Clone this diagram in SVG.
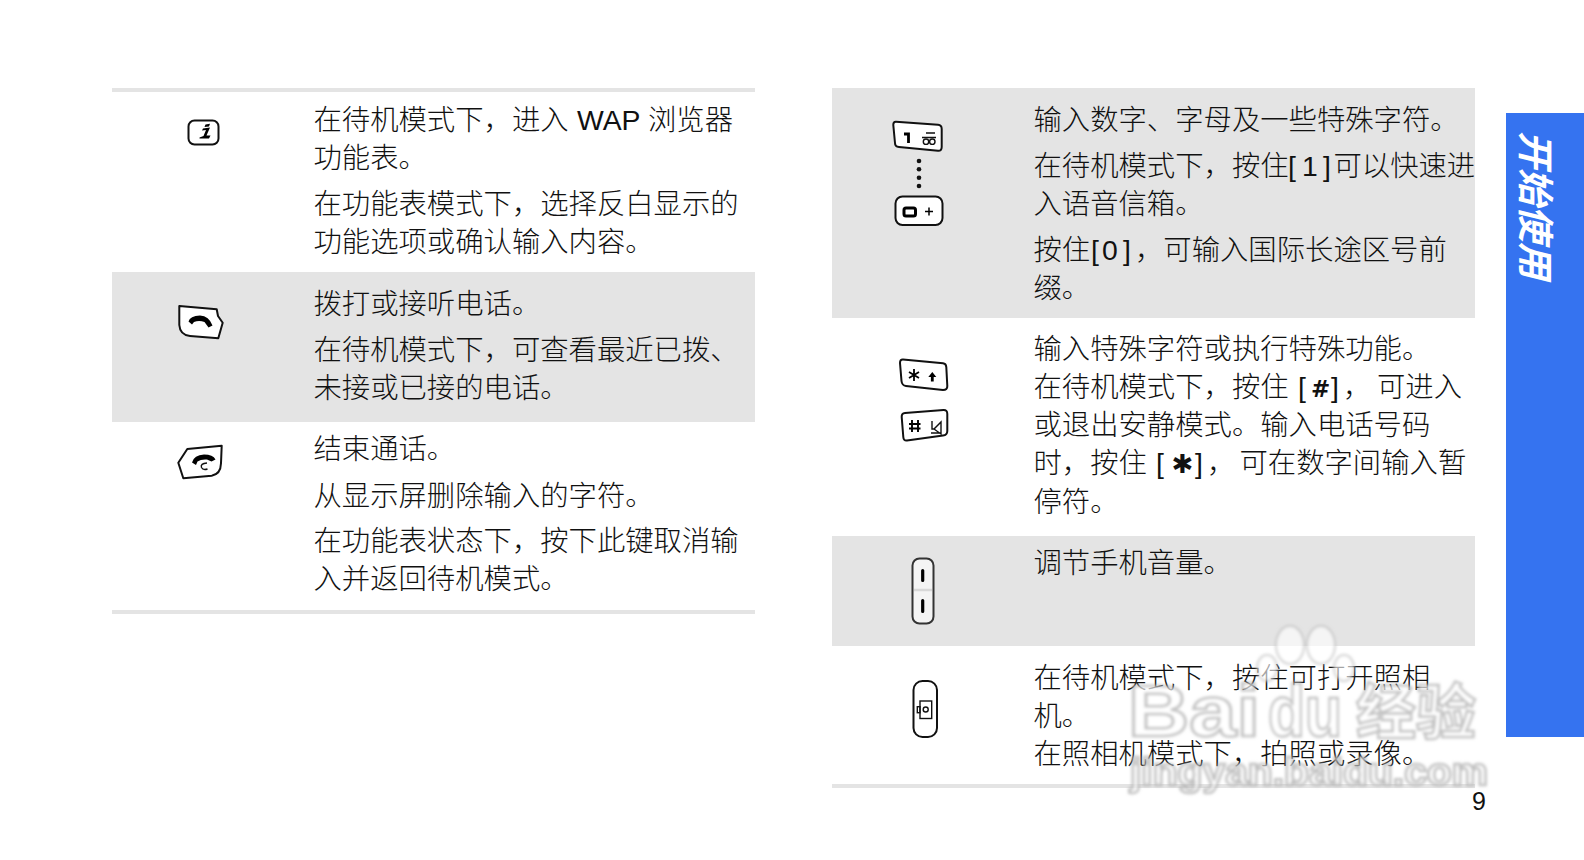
<svg xmlns="http://www.w3.org/2000/svg" width="1584" height="860" viewBox="0 0 1584 860">
<style>
.g{fill:#e4e4e4}
text{font-family:"Noto Sans CJK SC","Liberation Sans",sans-serif}
.t{font-size:28.35px;fill:#111;font-weight:300}
.l{font-family:"Liberation Sans",sans-serif;font-weight:400}
.k{fill:#fff;stroke:#111;stroke-width:2;stroke-linejoin:round}
.n{fill:none;stroke:#111;stroke-width:1.4}
.wm{fill:#fff;fill-opacity:.68;stroke:#a0a0a0;stroke-width:2.500;stroke-opacity:.65;font-family:"Liberation Sans",sans-serif;font-weight:700}
.p{fill:#fff;fill-opacity:.62;stroke:#b0b0b0;stroke-opacity:.6;stroke-width:2}
</style>
<defs><filter id="b" x="-10%" y="-10%" width="120%" height="120%"><feGaussianBlur stdDeviation="1.700"/></filter></defs>
<rect width="1584" height="860" fill="#fff"/>
<g id="left-table">
<rect class="g" x="112" y="88" width="643" height="4"/>
<rect class="g" x="112" y="272" width="643" height="150"/>
<rect class="g" x="112" y="610" width="643" height="4"/>
</g>
<g id="right-table">
<rect class="g" x="832" y="88" width="643" height="230"/>
<rect class="g" x="832" y="536" width="643" height="110"/>
<rect class="g" x="832" y="784" width="643" height="4"/>
</g>
<g id="key-info">
<rect class="k" x="188.500" y="120.500" width="30" height="24" rx="6" stroke-width="1.600"/>
<path d="M199.500 137.500l4-1.500 2.500-6-4 .5 1-2 7-1-3.500 8h4l-1.500 3h-9.500ZM205.500 124.500l4.500-.7-1 2.700-4.500.6Z" fill="#000"/>
<text class="t" y="129.500" x="313.500">在待机模式下，进入<tspan class="l" x="577">WAP</tspan><tspan x="648">浏览器</tspan></text>
<text class="t" y="167.500" x="313.500">功能表。</text>
<text class="t" y="214" x="313.500">在功能表模式下，选择反白显示的</text>
<text class="t" y="252" x="313.500">功能选项或确认输入内容。</text>
</g>
<g id="key-call">
<path class="k" d="M179.300 306L216.700 309.300 218 316 222.700 322.700 218.300 338.300 190 336Q180 335 179.300 325Z"/>
<path d="M188.500 321.500Q190 316 200 315.500Q209 316 212.500 325.500L208.500 327.500 204.500 322Q199 320 194 322L192 324.500Z" fill="#000"/>
<text class="t" y="314" x="313.500">拨打或接听电话。</text>
<text class="t" y="360" x="313.500">在待机模式下，可查看最近已拨、</text>
<text class="t" y="398" x="313.500">未接或已接的电话。</text>
</g>
<g id="key-end">
<path class="k" d="M221.700 445.700L187.300 449 178.300 462.700 183.300 478.300 211.700 475.700Q220.700 474.300 221 463.300Z"/>
<path d="M192 462.500Q194 455 204 454.500Q213 454.500 215.500 459.500L211.500 461.500 207 459.500Q201 459 197.500 461.500L196 465Z" fill="#000"/>
<path class="n" d="M207 463Q200 463.500 201.500 467.500Q203 470.500 207.500 469"/>
<text class="t" y="459" x="313.500">结束通话。</text>
<text class="t" y="506" x="313.500">从显示屏删除输入的字符。</text>
<text class="t" y="551" x="313.500">在功能表状态下，按下此键取消输</text>
<text class="t" y="589" x="313.500">入并返回待机模式。</text>
</g>
<g id="key-digits">
<path class="k" d="M896 121.800L938 124.800Q941.700 125 941.700 129L941.700 147Q941.700 151 938 150.700L899 147Q895 146.700 895 143L893.300 125Q893.300 121.600 896 121.800Z"/>
<path d="M904 134h4.500v9" fill="none" stroke="#000" stroke-width="2.800"/>
<path class="n" d="M926 133h9M922 137.500h14" stroke-width="1"/>
<circle class="n" cx="926" cy="141.700" r="2.700"/><circle class="n" cx="932.300" cy="141.700" r="2.700"/>
<g fill="#111"><circle cx="919" cy="161" r="2.300"/><circle cx="919" cy="169.300" r="2.300"/><circle cx="919" cy="177.700" r="2.300"/><circle cx="919" cy="186" r="2.300"/></g>
<rect class="k" x="895.500" y="196.500" width="47" height="28.500" rx="7"/>
<rect x="904" y="208" width="11.500" height="8" rx="2" fill="none" stroke="#000" stroke-width="3"/>
<path d="M925 211.500h8M929 207.500v8" stroke="#000" stroke-width="1.500"/>
<text class="t" y="130" x="1033.500">输入数字、字母及一些特殊字符。</text>
<text class="t" y="176" x="1033.500">在待机模式下，按住<tspan class="l" x="1288">[</tspan><tspan class="l" x="1302">1</tspan><tspan class="l" x="1323">]</tspan><tspan x="1333.500">可以快速进</tspan></text>
<text class="t" y="214" x="1033.500">入语音信箱。</text>
<text class="t" y="260" x="1033.500">按住<tspan class="l" x="1091">[</tspan><tspan class="l" x="1102">0</tspan><tspan class="l" x="1123">]</tspan><tspan x="1135">，可输入国际长途区号前</tspan></text>
<text class="t" y="297.500" x="1033.500">缀。</text>
</g>
<g id="key-symbols">
<path class="k" d="M903 359.500L943 363.300Q946 363.600 946.300 367L947.300 386Q947.500 390 943 390L906 386Q902 385.500 901.500 381L900 363Q900 359.300 903 359.500Z"/>
<path d="M914 369v12M909 372l10 6M919 372l-10 6" stroke="#000" stroke-width="1.800"/>
<path d="M932.300 372l-4 5h2.600v4.500h2.800v-4.500h2.600Z" fill="#000"/>
<path class="k" d="M905 413L943.500 410Q947.300 409.800 947.300 414L947.300 431Q947.300 435 943 435.500L907 440.500Q903.500 441 903.300 437L901.700 417Q901.500 413.300 905 413Z"/>
<path d="M912 420v12M918 420v12M909 424h11.500M909 428.500h11.500" stroke="#000" stroke-width="1.900"/>
<path class="n" d="M932 421v8h2l7-7v12l-7-5M931 433h10" stroke-width="1.100"/>
<text class="t" y="359" x="1033.500">输入特殊字符或执行特殊功能。</text>
<text class="t" y="397" x="1033.500">在待机模式下，按住<tspan class="l" x="1298">[</tspan><tspan x="1311" font-weight="700" font-size="23" style="font-family:'DejaVu Sans',sans-serif">#</tspan><tspan class="l" x="1331">]</tspan><tspan x="1343">，</tspan><tspan x="1377">可进入</tspan></text>
<text class="t" y="435" x="1033.500">或退出安静模式。输入电话号码</text>
<text class="t" y="473" x="1033.500">时，按住<tspan class="l" x="1156">[</tspan><tspan x="1171.500" font-size="26" font-weight="700" style="font-family:'DejaVu Sans',sans-serif">✱</tspan><tspan class="l" x="1195">]</tspan><tspan x="1207">，</tspan><tspan x="1239.500">可在数字间输入暂</tspan></text>
<text class="t" y="512" x="1033.500">停符。</text>
</g>
<g id="key-volume">
<rect x="912.500" y="558.500" width="21" height="65" rx="7" fill="#f4f4f4" stroke="#333" stroke-width="2"/>
<path d="M914 590h18" stroke="#d8d8d8" stroke-width="2.500"/>
<path d="M922.700 570.500v10M922.700 600.500v11" stroke="#000" stroke-width="3.200" stroke-linecap="round"/>
<text class="t" y="573" x="1033.500">调节手机音量。</text>
</g>
<g id="key-camera">
<rect class="k" x="913.500" y="681" width="23.500" height="56" rx="9"/>
<rect class="n" x="920" y="701" width="11.700" height="17.500"/><rect class="n" x="917.300" y="706.700" width="2.700" height="6"/><circle class="n" cx="925.700" cy="709.500" r="2.500"/>
<text class="t" y="688" x="1033.500">在待机模式下，按住可打开照相</text>
<text class="t" y="726" x="1033.500">机。</text>
<text class="t" y="763.500" x="1033.500">在照相机模式下，拍照或录像。</text>
</g>
<g id="chapter-tab">
<rect x="1506" y="113" width="78" height="624" fill="#3573f0"/>
<text transform="translate(1522 131) rotate(90) skewX(-14)" font-size="37" font-weight="700" fill="#fff" x="0" y="0">开始使用</text>
</g>
<g id="watermark" filter="url(#b)">
<ellipse class="p" cx="1290" cy="645" rx="14" ry="19"/>
<ellipse class="p" cx="1321" cy="645" rx="14" ry="19"/>
<ellipse class="p" cx="1267" cy="668" rx="10" ry="13"/>
<ellipse class="p" cx="1344" cy="668" rx="10" ry="13"/>
<text class="wm" x="1128" y="736" font-size="72" textLength="132" lengthAdjust="spacingAndGlyphs">Bai</text>
<text class="wm" x="1268" y="736" font-size="72" textLength="74" lengthAdjust="spacingAndGlyphs">du</text>
<text class="wm" x="1356" y="734" font-size="60" style="font-family:'Noto Sans CJK SC',sans-serif">经验</text>
<text class="wm" x="1130" y="785" font-size="38" textLength="358" lengthAdjust="spacingAndGlyphs">jingyan.baidu.com</text>
</g>
<text id="page-number" x="1472" y="810" font-size="25" fill="#111" class="l">9</text>
</svg>
